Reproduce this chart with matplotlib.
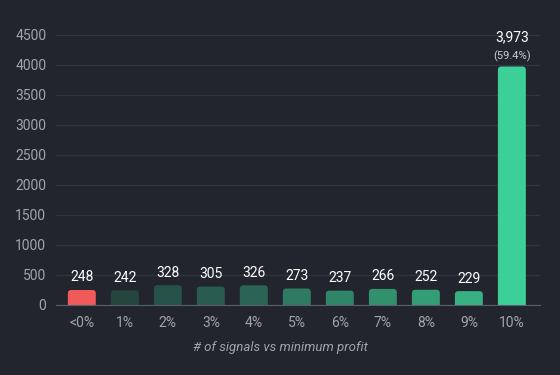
import matplotlib.pyplot as plt
from matplotlib.patches import FancyBboxPatch

plt.rcParams['font.family'] = ['Roboto', 'DejaVu Sans']

categories = ['<0%', '1%', '2%', '3%', '4%', '5%', '6%', '7%', '8%', '9%', '10%']
counts = [248, 242, 328, 305, 326, 273, 237, 266, 252, 229, 3973]
colors = ['#f05a5a', '#24463f', '#27524a', '#295b4f', '#2b6454', '#2e7a62',
          '#2f8567', '#32916d', '#349d75', '#38b182', '#3ccf98']
last_share = '(59.4%)'
yticks = [0, 500, 1000, 1500, 2000, 2500, 3000, 3500, 4000, 4500]

bg = '#22252d'
fig = plt.figure(figsize=(5.6, 3.75), dpi=100, facecolor=bg)
ax = fig.add_axes([0.1, 0.187, 0.864, 0.72], facecolor=bg)

x = list(range(len(categories)))
bars = ax.bar(x, counts, width=0.65, color=colors, zorder=3)

# swap plain bars for slightly rounded ones
aspect = 716  # data-y per data-x unit at this size
r = 0.08
for b in bars:
    b.set_visible(False)
    p = FancyBboxPatch((b.get_x(), -r * aspect), b.get_width(), b.get_height() + r * aspect,
                       boxstyle=f'round,pad=0,rounding_size={r}', mutation_aspect=aspect,
                       facecolor=b.get_facecolor(), edgecolor='none', zorder=3)
    ax.add_patch(p)

for i, (b, v) in enumerate(zip(bars, counts)):
    cx = b.get_x() + b.get_width() / 2
    if i == len(counts) - 1:
        ax.annotate(last_share, (cx, v), xytext=(0, 3), textcoords='offset points',
                    ha='center', va='bottom', color='#c9ccd2', fontsize=8)
        ax.annotate(f'{v:,}', (cx, v), xytext=(0, 16), textcoords='offset points',
                    ha='center', va='bottom', color='white', fontsize=10)
    else:
        ax.annotate(f'{v:,}', (cx, v), xytext=(0, 4), textcoords='offset points',
                    ha='center', va='bottom', color='white', fontsize=10)

ax.set_xlim(-0.6, 10.65)
ax.set_ylim(0, 4500)
ax.set_yticks(yticks)
ax.set_xticks(x)
ax.set_xticklabels(categories)
ax.tick_params(colors='#a0a4ab', labelsize=10, length=0, pad=8)
ax.tick_params(axis='y', pad=7)

ax.grid(axis='y', color='#30343d', linewidth=1, zorder=0)
for s in ['top', 'right', 'left']:
    ax.spines[s].set_visible(False)
ax.spines['bottom'].set_color('#5a5e66')
ax.spines['bottom'].set_zorder(4)

fig.text(0.5, 0.072, '# of signals vs minimum profit', color='#a0a4ab', fontsize=9.5,
         fontstyle='italic', ha='center', va='center')

fig.savefig('out.png', dpi=100, facecolor=bg)
